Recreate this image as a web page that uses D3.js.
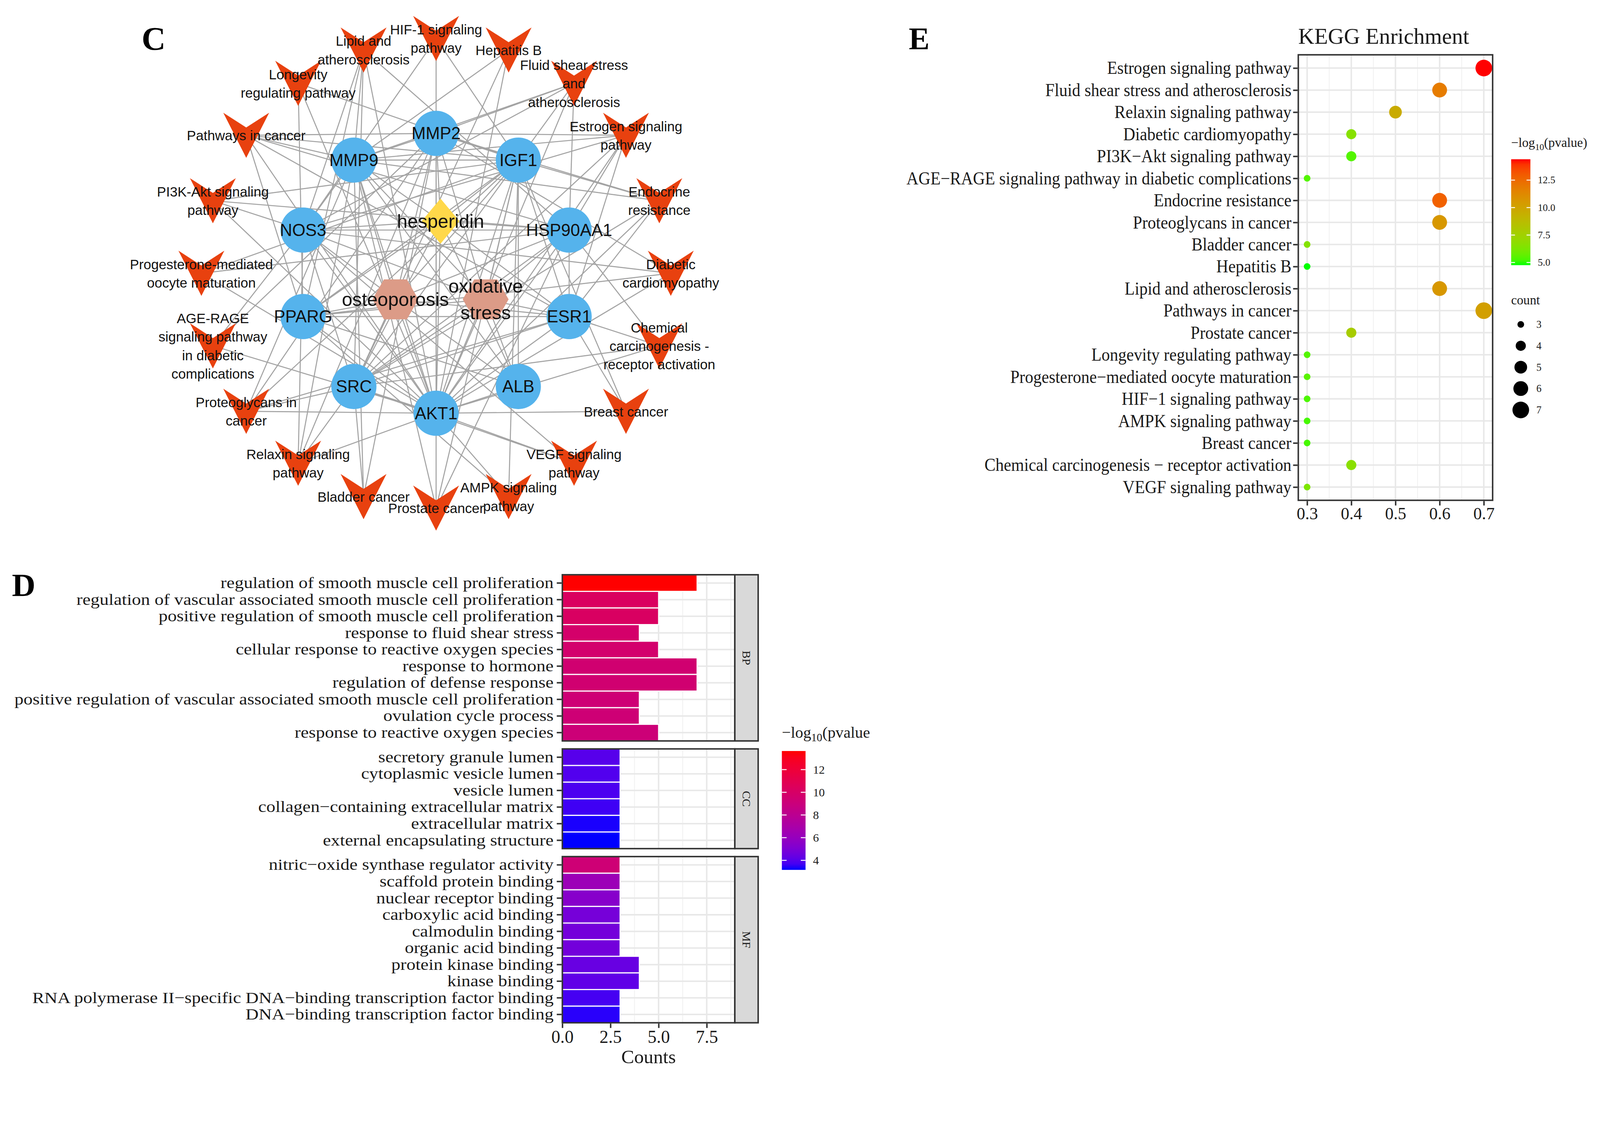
<!DOCTYPE html>
<html>
<head>
<meta charset="utf-8">
<script src="https://cdn.jsdelivr.net/npm/d3@7"></script>
<style>
html, body { margin: 0; padding: 0; background: #fff; overflow: hidden; }
svg { display: block; width: 100vw; height: 100vh; }
text { font-family: "Liberation Serif", "Times New Roman", serif; fill: #1a1a1a; }
.net text { font-family: "Liberation Sans", Arial, sans-serif; fill: #111; }
</style>
</head>
<body>
<div class="chart"></div>
<script>
// ---------- C: network ----------
const genes = ["MMP2", "IGF1", "HSP90AA1", "ESR1", "ALB", "AKT1", "SRC", "PPARG", "NOS3", "MMP9"];
const hubs = ["hesperidin", "oxidative stress", "osteoporosis"];
const hubLabels = ["hesperidin", "oxidative\nstress", "osteoporosis"];
const pathways = ["HIF-1", "Hepatitis B", "Fluid shear", "Estrogen", "Endocrine", "Diabetic", "Chemical",
  "Breast", "VEGF", "AMPK", "Prostate", "Bladder", "Relaxin", "Proteoglycans", "AGE-RAGE",
  "Progesterone", "PI3K-Akt", "Pathways in cancer", "Longevity", "Lipid"];
const pathwayLabels = ["HIF-1 signaling\npathway", "Hepatitis B", "Fluid shear stress\nand\natherosclerosis",
  "Estrogen signaling\npathway", "Endocrine\nresistance", "Diabetic\ncardiomyopathy",
  "Chemical\ncarcinogenesis -\nreceptor activation", "Breast cancer", "VEGF signaling\npathway",
  "AMPK signaling\npathway", "Prostate cancer", "Bladder cancer", "Relaxin signaling\npathway",
  "Proteoglycans in\ncancer", "AGE-RAGE\nsignaling pathway\nin diabetic\ncomplications",
  "Progesterone-mediated\noocyte maturation", "PI3K-Akt signaling\npathway", "Pathways in cancer",
  "Longevity\nregulating pathway", "Lipid and\natherosclerosis"];
const pathwayMembers = [
  ["AKT1", "IGF1", "NOS3"],
  ["AKT1", "MMP9", "SRC"],
  ["AKT1", "HSP90AA1", "MMP2", "MMP9", "NOS3", "SRC"],
  ["AKT1", "ESR1", "HSP90AA1", "MMP2", "MMP9", "NOS3", "SRC"],
  ["AKT1", "ESR1", "IGF1", "MMP2", "MMP9", "SRC"],
  ["AKT1", "MMP2", "NOS3", "PPARG"],
  ["AKT1", "ESR1", "HSP90AA1", "SRC"],
  ["AKT1", "ESR1", "IGF1"],
  ["AKT1", "NOS3", "SRC"],
  ["AKT1", "IGF1", "PPARG"],
  ["AKT1", "HSP90AA1", "IGF1", "MMP9"],
  ["MMP2", "MMP9", "SRC"],
  ["AKT1", "MMP2", "MMP9", "NOS3", "SRC"],
  ["AKT1", "ESR1", "IGF1", "MMP2", "MMP9", "SRC"],
  ["AKT1", "MMP2", "NOS3"],
  ["AKT1", "HSP90AA1", "IGF1"],
  ["AKT1", "HSP90AA1", "IGF1", "NOS3"],
  ["AKT1", "ESR1", "HSP90AA1", "IGF1", "MMP2", "MMP9", "PPARG"],
  ["AKT1", "IGF1", "PPARG"],
  ["AKT1", "HSP90AA1", "MMP9", "NOS3", "PPARG", "SRC"]
];
const geneLinks = [["AKT1", "ALB"], ["AKT1", "ESR1"], ["AKT1", "HSP90AA1"], ["AKT1", "IGF1"], ["AKT1", "MMP2"],
  ["AKT1", "MMP9"], ["AKT1", "NOS3"], ["AKT1", "PPARG"], ["AKT1", "SRC"], ["ALB", "IGF1"], ["ALB", "MMP9"],
  ["ESR1", "HSP90AA1"], ["ESR1", "IGF1"], ["ESR1", "SRC"], ["ESR1", "PPARG"], ["HSP90AA1", "NOS3"],
  ["HSP90AA1", "SRC"], ["IGF1", "MMP2"], ["IGF1", "MMP9"], ["MMP2", "MMP9"], ["NOS3", "SRC"], ["PPARG", "ALB"],
  ["MMP9", "NOS3"], ["IGF1", "PPARG"]];

// ---------- D: GO bars ----------
const goTerms = ["regulation of smooth muscle cell proliferation",
  "regulation of vascular associated smooth muscle cell proliferation",
  "positive regulation of smooth muscle cell proliferation", "response to fluid shear stress",
  "cellular response to reactive oxygen species", "response to hormone", "regulation of defense response",
  "positive regulation of vascular associated smooth muscle cell proliferation", "ovulation cycle process",
  "response to reactive oxygen species",
  "secretory granule lumen", "cytoplasmic vesicle lumen", "vesicle lumen",
  "collagen\u2212containing extracellular matrix", "extracellular matrix", "external encapsulating structure",
  "nitric\u2212oxide synthase regulator activity", "scaffold protein binding", "nuclear receptor binding",
  "carboxylic acid binding", "calmodulin binding", "organic acid binding", "protein kinase binding",
  "kinase binding", "RNA polymerase II\u2212specific DNA\u2212binding transcription factor binding",
  "DNA\u2212binding transcription factor binding"];
const goCategory = ["BP", "BP", "BP", "BP", "BP", "BP", "BP", "BP", "BP", "BP",
  "CC", "CC", "CC", "CC", "CC", "CC",
  "MF", "MF", "MF", "MF", "MF", "MF", "MF", "MF", "MF", "MF"];
const goCounts = [7, 5, 5, 4, 5, 7, 7, 4, 4, 5, 3, 3, 3, 3, 3, 3, 3, 3, 3, 3, 3, 3, 4, 4, 3, 3];
const goLogP = [13.64, 10.3, 10.2, 9.8, 9.7, 9.5, 9.5, 9.3, 9.3, 9.2,
  4.0, 3.9, 3.8, 3.6, 3.25, 3.16,
  9.3, 6.3, 5.4, 4.8, 4.75, 4.7, 4.4, 4.2, 3.7, 3.35];
const goFacets = ["BP", "CC", "MF"];
const goXTicks = [0, 2.5, 5, 7.5];
const goLegendTicks = [4, 6, 8, 10, 12];

// ---------- E: KEGG dots ----------
const keggTerms = ["Estrogen signaling pathway", "Fluid shear stress and atherosclerosis",
  "Relaxin signaling pathway", "Diabetic cardiomyopathy", "PI3K\u2212Akt signaling pathway",
  "AGE\u2212RAGE signaling pathway in diabetic complications", "Endocrine resistance",
  "Proteoglycans in cancer", "Bladder cancer", "Hepatitis B", "Lipid and atherosclerosis",
  "Pathways in cancer", "Prostate cancer", "Longevity regulating pathway",
  "Progesterone\u2212mediated oocyte maturation", "HIF\u22121 signaling pathway", "AMPK signaling pathway",
  "Breast cancer", "Chemical carcinogenesis \u2212 receptor activation", "VEGF signaling pathway"];
const keggRatio = [0.7, 0.6, 0.5, 0.4, 0.4, 0.3, 0.6, 0.6, 0.3, 0.3, 0.6, 0.7, 0.4, 0.3, 0.3, 0.3, 0.3, 0.3, 0.4, 0.3];
const keggCount = [7, 6, 5, 4, 4, 3, 6, 6, 3, 3, 6, 7, 4, 3, 3, 3, 3, 3, 4, 3];
const keggLogP = [14.4, 11.8, 9.6, 6.6, 5.4, 5.4, 12.8, 10.6, 6.5, 4.76, 10.6, 10.2, 7.8, 5.4, 5.5, 5.3, 5.2, 5.2, 6.7, 6.3];
const keggXTicks = [0.3, 0.4, 0.5, 0.6, 0.7];
const keggLegendTicks = [5, 7.5, 10, 12.5];
const keggSizeLegend = [3, 4, 5, 6, 7];

const svg = d3.select(".chart").append("svg")
  .attr("viewBox", "0 0 4322 2920")
  .attr("preserveAspectRatio", "xMinYMin meet");

svg.append("rect").attr("width", 4322).attr("height", 2920).attr("fill", "#fff");

function multiline(sel, lines, lh) {
  sel.selectAll("tspan").data(lines).join("tspan")
    .attr("x", 0)
    .attr("dy", (d, i) => i === 0 ? (-(lines.length - 1) / 2 * lh) + "px" : lh + "px")
    .text(d => d);
}

function letter(t, x, y, size) {
  svg.append("text").attr("x", x).attr("y", y)
    .attr("text-anchor", "middle").attr("dominant-baseline", "central")
    .attr("font-size", size).attr("font-weight", "bold").style("fill", "#000")
    .text(t);
}

// ================= C =================
function drawNetwork() {
  const cx = 1178, cy = 738;
  const radius = d3.scaleLinear().domain([0, 1]).range([0, 634]);
  const polar = (i, n, r, dx = 0) => {
    const a = -Math.PI / 2 + i * 2 * Math.PI / n;
    return [cx + dx + radius(r) * Math.cos(a), cy + radius(r) * Math.sin(a)];
  };
  const pos = new Map();
  genes.forEach((g, i) => pos.set(g, polar(i, genes.length, 0.596)));
  hubs.forEach((h, i) => pos.set(h, polar(i, hubs.length, 0.222, 12)));
  pathways.forEach((p, i) => pos.set(p, polar(i, pathways.length, 1)));

  const edges = [];
  hubs.forEach(h => genes.forEach(g => edges.push([h, g])));
  geneLinks.forEach(e => edges.push(e));
  pathways.forEach((p, i) => pathwayMembers[i].forEach(g => edges.push([p, g])));

  const net = svg.append("g").attr("class", "net");

  net.selectAll("line").data(edges).join("line")
    .attr("x1", d => pos.get(d[0])[0]).attr("y1", d => pos.get(d[0])[1])
    .attr("x2", d => pos.get(d[1])[0]).attr("y2", d => pos.get(d[1])[1])
    .attr("stroke", "#a3a3a3").attr("stroke-width", 2.8);

  // pathway V shapes
  net.selectAll(".vnode").data(pathways).join("path")
    .attr("class", "vnode")
    .attr("transform", d => `translate(${pos.get(d)[0]},${pos.get(d)[1]})`)
    .attr("d", "M-62,-61L0,-21L62,-61L0,61Z")
    .attr("fill", "#e8410f");

  net.selectAll(".gnode").data(genes).join("circle")
    .attr("class", "gnode")
    .attr("cx", d => pos.get(d)[0]).attr("cy", d => pos.get(d)[1])
    .attr("r", 61).attr("fill", "#55b3ec");

  net.append("path")
    .attr("transform", `translate(${pos.get(hubs[0])[0]},${pos.get(hubs[0])[1]})`)
    .attr("d", "M0,-61L51,0L0,61L-51,0Z").attr("fill", "#ffd84a");

  net.selectAll(".hex").data(hubs.slice(1)).join("path")
    .attr("class", "hex")
    .attr("transform", d => `translate(${pos.get(d)[0]},${pos.get(d)[1]})`)
    .attr("d", "M-62,0L-31,-54L31,-54L62,0L31,54L-31,54Z")
    .attr("fill", "#dc9b87");

  net.selectAll(".plab").data(pathways).join("text")
    .attr("class", "plab")
    .attr("transform", d => `translate(${pos.get(d)[0]},${pos.get(d)[1]})`)
    .attr("text-anchor", "middle").attr("dominant-baseline", "central")
    .attr("font-size", 37)
    .each(function (d, i) { multiline(d3.select(this), pathwayLabels[i].split("\n"), 50); });

  net.selectAll(".glab").data(genes).join("text")
    .attr("class", "glab")
    .attr("x", d => pos.get(d)[0]).attr("y", d => pos.get(d)[1])
    .attr("text-anchor", "middle").attr("dominant-baseline", "central")
    .attr("font-size", 46)
    .text(d => d);

  net.selectAll(".hlab").data(hubs).join("text")
    .attr("class", "hlab")
    .attr("transform", d => `translate(${pos.get(d)[0]},${pos.get(d)[1]})`)
    .attr("text-anchor", "middle").attr("dominant-baseline", "central")
    .attr("font-size", 51)
    .each(function (d, i) { multiline(d3.select(this), hubLabels[i].split("\n"), 71); });
}

// colour bar legend helper
function colorBar(id, color, domain, ticks, x, y0, y1, w, fmt, fs) {
  const grad = svg.append("defs").append("linearGradient")
    .attr("id", id).attr("x1", 0).attr("y1", 1).attr("x2", 0).attr("y2", 0);
  d3.range(21).forEach(i => {
    grad.append("stop").attr("offset", i / 20)
      .attr("stop-color", color(domain[0] + (domain[1] - domain[0]) * i / 20));
  });
  svg.append("rect").attr("x", x).attr("y", y0).attr("width", w).attr("height", y1 - y0)
    .attr("fill", `url(#${id})`);
  const ly = d3.scaleLinear().domain(domain).range([y1, y0]);
  ticks.forEach(t => {
    [[x, x + w / 5], [x + w - w / 5, x + w]].forEach(s => {
      svg.append("line").attr("x1", s[0]).attr("x2", s[1]).attr("y1", ly(t)).attr("y2", ly(t))
        .attr("stroke", "#fff").attr("stroke-width", 2.5);
    });
    svg.append("text").attr("x", x + w + 20).attr("y", ly(t))
      .attr("dominant-baseline", "central").attr("font-size", fs)
      .text(fmt(t));
  });
}

function legendTitle(x, y, fs, closing) {
  const t = svg.append("text").attr("x", x).attr("y", y).attr("font-size", fs);
  t.append("tspan").text("\u2212log");
  t.append("tspan").attr("dy", fs * 0.22).attr("font-size", fs * 0.7).text("10");
  t.append("tspan").attr("dy", -fs * 0.22).text(closing ? "(pvalue)" : "(pvalue");
}

// ================= D =================
function drawGO() {
  const x = d3.scaleLinear().domain([0, 8.96]).range([1519, 1985]);
  const color = d3.scaleLinear().domain(d3.extent(goLogP)).range(["#0000ff", "#ff0000"])
    .interpolate(d3.interpolateLab);
  const rowH = 44.88, gap = 21.5;
  let yc = 1552;
  const minor = [1.25, 3.75, 6.25, 8.75];

  goFacets.forEach((f, k) => {
    const idx = goTerms.map((t, i) => i).filter(i => goCategory[i] === f);
    const h = idx.length * rowH;
    const y = d3.scaleBand().domain(idx.map(i => goTerms[i])).range([yc, yc + h]).padding(0);
    const g = svg.append("g");

    g.selectAll(".mn").data(minor).join("line")
      .attr("x1", d => x(d)).attr("x2", d => x(d)).attr("y1", yc).attr("y2", yc + h)
      .attr("stroke", "#f0f0f0").attr("stroke-width", 2);
    g.selectAll(".mj").data(goXTicks).join("line")
      .attr("x1", d => x(d)).attr("x2", d => x(d)).attr("y1", yc).attr("y2", yc + h)
      .attr("stroke", "#e8e8e8").attr("stroke-width", 4);
    g.selectAll(".hz").data(idx).join("line")
      .attr("x1", x.range()[0]).attr("x2", x.range()[1])
      .attr("y1", i => y(goTerms[i]) + y.bandwidth() / 2).attr("y2", i => y(goTerms[i]) + y.bandwidth() / 2)
      .attr("stroke", "#e8e8e8").attr("stroke-width", 4);

    g.selectAll(".bar").data(idx).join("rect")
      .attr("x", x(0)).attr("y", i => y(goTerms[i]))
      .attr("width", i => x(goCounts[i]) - x(0)).attr("height", y.bandwidth())
      .attr("fill", i => color(goLogP[i]))
      .attr("stroke", "#fff").attr("stroke-width", 3);

    g.append("rect").attr("x", x.range()[0]).attr("y", yc)
      .attr("width", x.range()[1] - x.range()[0]).attr("height", h)
      .attr("fill", "none").attr("stroke", "#333").attr("stroke-width", 4);

    // strip
    g.append("rect").attr("x", x.range()[1]).attr("y", yc).attr("width", 63).attr("height", h)
      .attr("fill", "#d9d9d9").attr("stroke", "#333").attr("stroke-width", 4);
    g.append("text")
      .attr("transform", `translate(${x.range()[1] + 31.5},${yc + h / 2}) rotate(90)`)
      .attr("text-anchor", "middle").attr("dominant-baseline", "central")
      .attr("font-size", 32).text(f);

    const ax = g.append("g").attr("transform", `translate(${x(0) - 2},0)`)
      .call(d3.axisLeft(y).tickSize(13).tickPadding(6));
    ax.select(".domain").remove();
    ax.selectAll("line").attr("stroke", "#333").attr("stroke-width", 4);
    ax.selectAll("text").attr("font-size", 43).attr("font-family", null)
      .attr("transform", "scale(1.14,1)").style("fill", "#1a1a1a");

    if (k === goFacets.length - 1) {
      const bx = g.append("g").attr("transform", `translate(0,${yc + h + 2})`)
        .call(d3.axisBottom(x).tickValues(goXTicks).tickFormat(d3.format(".1f")).tickSize(12));
      bx.select(".domain").remove();
      bx.selectAll("line").attr("stroke", "#333").attr("stroke-width", 4);
      bx.selectAll("text").attr("font-size", 48).attr("font-family", null)
        .attr("dy", null).attr("y", 36).attr("dominant-baseline", "central").style("fill", "#1a1a1a");
      svg.append("text").attr("x", (x.range()[0] + x.range()[1]) / 2).attr("y", yc + h + 92)
        .attr("text-anchor", "middle").attr("dominant-baseline", "central")
        .attr("font-size", 52).text("Counts");
    }
    yc += h + gap;
  });

  legendTitle(2112, 1992, 43, false);
  colorBar("goGrad", color, d3.extent(goLogP), goLegendTicks, 2112, 2028, 2349, 64, d3.format("d"), 32);
}

// ================= E =================
function drawKEGG() {
  const x = d3.scaleLinear().domain([0.28, 0.72]).range([3507, 4032]);
  const y = d3.scalePoint().domain(keggTerms).range([148, 1351]).padding(0.6);
  const color = d3.scaleLinear().domain(d3.extent(keggLogP)).range(["#00ff00", "#ff0000"])
    .interpolate(d3.interpolateLab);
  const r = d3.scaleRadial().domain([3, 7]).range([9, 22.5]);
  const g = svg.append("g");
  const [y0, y1] = y.range();
  const minor = keggXTicks.slice(1).map((t, i) => (t + keggXTicks[i]) / 2);

  g.selectAll(".mn").data(minor).join("line")
    .attr("x1", d => x(d)).attr("x2", d => x(d)).attr("y1", y0).attr("y2", y1)
    .attr("stroke", "#f0f0f0").attr("stroke-width", 2);
  g.selectAll(".mj").data(keggXTicks).join("line")
    .attr("x1", d => x(d)).attr("x2", d => x(d)).attr("y1", y0).attr("y2", y1)
    .attr("stroke", "#e8e8e8").attr("stroke-width", 4);
  g.selectAll(".hz").data(keggTerms).join("line")
    .attr("x1", x.range()[0]).attr("x2", x.range()[1])
    .attr("y1", d => y(d)).attr("y2", d => y(d))
    .attr("stroke", "#e8e8e8").attr("stroke-width", 4);

  g.selectAll("circle").data(keggTerms).join("circle")
    .attr("cx", (d, i) => x(keggRatio[i])).attr("cy", d => y(d))
    .attr("r", (d, i) => r(keggCount[i]))
    .attr("fill", (d, i) => color(keggLogP[i]));

  g.append("rect").attr("x", x.range()[0]).attr("y", y0)
    .attr("width", x.range()[1] - x.range()[0]).attr("height", y1 - y0)
    .attr("fill", "none").attr("stroke", "#333").attr("stroke-width", 4);

  const ax = g.append("g").attr("transform", `translate(${x.range()[0] - 2},0)`)
    .call(d3.axisLeft(y).tickSize(12).tickPadding(6));
  ax.select(".domain").remove();
  ax.selectAll("line").attr("stroke", "#333").attr("stroke-width", 4);
  ax.selectAll("text").attr("font-size", 49).attr("font-family", null)
    .attr("transform", "scale(0.915,1)").style("fill", "#1a1a1a");

  const bx = g.append("g").attr("transform", `translate(0,${y1 + 2})`)
    .call(d3.axisBottom(x).tickValues(keggXTicks).tickFormat(d3.format(".1f")).tickSize(12));
  bx.select(".domain").remove();
  bx.selectAll("line").attr("stroke", "#333").attr("stroke-width", 4);
  bx.selectAll("text").attr("font-size", 46).attr("font-family", null)
    .attr("dy", null).attr("y", 33).attr("dominant-baseline", "central").style("fill", "#1a1a1a");

  svg.append("text").attr("x", x.range()[0]).attr("y", 118)
    .attr("font-size", 60).text("KEGG Enrichment");

  legendTitle(4082, 397, 35, true);
  colorBar("keggGrad", color, d3.extent(keggLogP), keggLegendTicks, 4082, 430, 716, 52, d3.format(".1f"), 27);

  svg.append("text").attr("x", 4082).attr("y", 822).attr("font-size", 35).text("count");
  const sy = d3.scalePoint().domain(keggSizeLegend).range([876, 1107]);
  svg.selectAll(".szl").data(keggSizeLegend).join("circle")
    .attr("class", "szl")
    .attr("cx", 4108).attr("cy", d => sy(d)).attr("r", d => r(d)).attr("fill", "#000");
  svg.selectAll(".szt").data(keggSizeLegend).join("text")
    .attr("class", "szt")
    .attr("x", 4150).attr("y", d => sy(d))
    .attr("dominant-baseline", "central").attr("font-size", 28).text(d => d);
}

drawNetwork();
drawGO();
drawKEGG();
letter("C", 415, 104, 90);
letter("D", 64, 1580, 88);
letter("E", 2483, 104, 84);
</script>
</body>
</html>
